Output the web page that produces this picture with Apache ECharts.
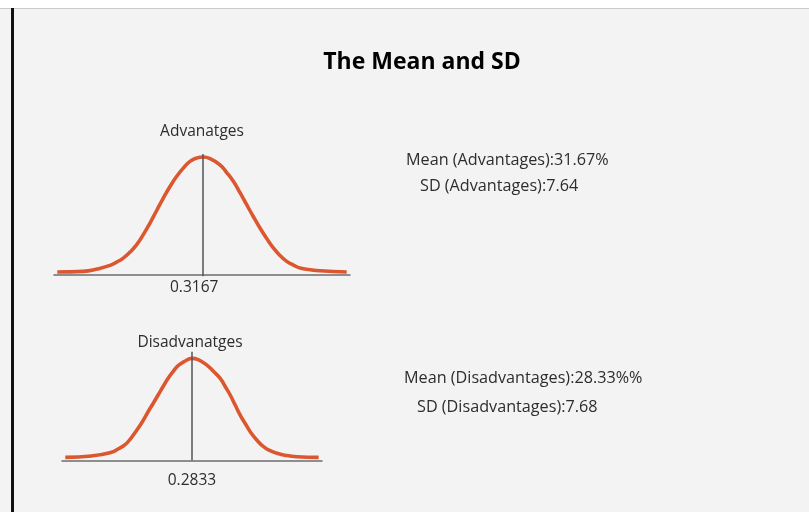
<!DOCTYPE html>
<html>
<head>
<meta charset="utf-8">
<script src="https://cdn.jsdelivr.net/npm/echarts@6/dist/echarts.min.js"></script>
<style>
  html, body { margin: 0; padding: 0; background: #ffffff; }
  #main { width: 809px; height: 512px; }
</style>
</head>
<body>
<div id="main"></div>
<script>
// ── Datos ─────────────────────────────────────────────────────────────────
const nombresGrupos = ["Advanatges", "Disadvanatges"];
const medias = [0.3167, 0.2833];

// curva "Advanatges": x en proporción, altura relativa al pico
const ventajasX = [0.0551, 0.1017, 0.1263, 0.1496, 0.1616, 0.1734, 0.1855, 0.1975, 0.2093, 0.2213,
                   0.2333, 0.2452, 0.2572, 0.2692, 0.2810, 0.2930, 0.3047, 0.3167, 0.3289, 0.3468,
                   0.3588, 0.3707, 0.3827, 0.3947, 0.4065, 0.4185, 0.4306, 0.4424, 0.4544, 0.4664,
                   0.4783, 0.4903, 0.5082, 0.5261, 0.5740];
const ventajasY = [0.021, 0.027, 0.047, 0.078, 0.106, 0.140, 0.191, 0.254, 0.340, 0.438,
                   0.545, 0.651, 0.749, 0.836, 0.906, 0.963, 0.991, 1.000, 0.987, 0.934,
                   0.868, 0.793, 0.698, 0.594, 0.494, 0.396, 0.306, 0.226, 0.162, 0.112,
                   0.081, 0.055, 0.041, 0.032, 0.021];

// curva "Disadvanatges"
const desventajasX = [0.0276, 0.0802, 0.1206, 0.1341, 0.1477, 0.1604, 0.1746, 0.1847, 0.1948, 0.2049,
                      0.2150, 0.2251, 0.2352, 0.2453, 0.2554, 0.2696, 0.2833, 0.2958, 0.3134, 0.3261,
                      0.3403, 0.3504, 0.3605, 0.3706, 0.3807, 0.3908, 0.4009, 0.4141, 0.4278, 0.4413,
                      0.4549, 0.4737, 0.4953, 0.5390];
const desventajasY = [0.031, 0.044, 0.080, 0.113, 0.152, 0.220, 0.315, 0.391, 0.477, 0.558,
                      0.641, 0.724, 0.804, 0.871, 0.928, 0.974, 1.000, 0.988, 0.934, 0.876,
                      0.804, 0.724, 0.641, 0.543, 0.445, 0.362, 0.282, 0.201, 0.135, 0.096,
                      0.070, 0.049, 0.037, 0.031];

const textosEstadisticas = [
  "Mean (Advantages):31.67%",
  "SD (Advantages):7.64",
  "Mean (Disadvantages):28.33%%",
  "SD (Disadvantages):7.68"
];

// ── Paleta ────────────────────────────────────────────────────────────────
const colores = {
  fondo: "#f3f3f3",
  curva: "#dc5630",
  eje: "#6e6e6e",
  media: "#555555",
  texto: "#2d2d2d"
};
const fuente = "'Open Sans', 'Noto Sans', sans-serif";

const fnPares = (xs, ys) => xs.map((x, i) => [x, ys[i]]);

const fnEjeX = (indice, minimo, maximo, margen, relleno) => ({
  type: "value",
  gridIndex: indice,
  min: minimo,
  max: maximo,
  splitLine: { show: false },
  axisTick: { show: false },
  axisLine: { onZero: true, lineStyle: { color: colores.eje, width: 1.5 } },
  axisLabel: {
    customValues: [medias[indice]],
    formatter: v => v.toFixed(4),
    color: colores.texto,
    fontSize: 15.5,
    fontFamily: fuente,
    margin: margen,
    padding: relleno
  }
});

const fnSerie = (indice, datos, tope) => ({
  type: "line",
  xAxisIndex: indice,
  yAxisIndex: indice,
  data: datos,
  smooth: 0.5,
  showSymbol: false,
  silent: true,
  lineStyle: { color: colores.curva, width: 3.6 },
  markLine: {
    silent: true,
    symbol: "none",
    label: { show: false },
    lineStyle: { color: colores.media, width: 1.5, type: "solid" },
    data: [[{ coord: [medias[indice], indice === 0 ? -0.015 : 0] }, { coord: [medias[indice], tope] }]]
  }
});

const grafica = echarts.init(document.getElementById("main"));

grafica.setOption({
  backgroundColor: colores.fondo,
  animation: false,
  grid: [
    { left: 54, width: 296, top: 154.1, bottom: 235.7 },
    { left: 62, width: 260, top: 351.7, bottom: 51.5 }
  ],
  xAxis: [
    fnEjeX(0, 0.0492, 0.5799, 3, [0, 18, 0, 0]),
    fnEjeX(1, 0.0210, 0.5458, 12, [0, 0, 0, 0])
  ],
  yAxis: [
    { type: "value", gridIndex: 0, min: -0.015, max: 1.025, show: false },
    { type: "value", gridIndex: 1, min: 0, max: 1.065, show: false }
  ],
  series: [
    fnSerie(0, fnPares(ventajasX, ventajasY), 1.025),
    fnSerie(1, fnPares(desventajasX, desventajasY), 1.065)
  ],
  graphic: [
    // marco de la página
    { type: "rect", shape: { x: 0, y: 0, width: 809, height: 8 }, style: { fill: "#ffffff" }, silent: true },
    { type: "rect", shape: { x: 0, y: 8, width: 809, height: 1 }, style: { fill: "#cccccc" }, silent: true },
    { type: "rect", shape: { x: 11, y: 8, width: 3, height: 504 }, style: { fill: "#111111" }, silent: true },
    // título
    {
      type: "text", x: 422, y: 62,
      style: { text: "The Mean and SD", fill: "#000000", font: `bold 23px ${fuente}`, textAlign: "center", textVerticalAlign: "middle" }
    },
    // nombres de grupos
    {
      type: "text", x: 202, y: 132,
      style: { text: nombresGrupos[0], fill: colores.texto, font: `15.5px ${fuente}`, textAlign: "center", textVerticalAlign: "middle" }
    },
    {
      type: "text", x: 190, y: 343,
      style: { text: nombresGrupos[1], fill: colores.texto, font: `15.5px ${fuente}`, textAlign: "center", textVerticalAlign: "middle" }
    },
    // estadísticas
    { type: "text", x: 406, y: 160, style: { text: textosEstadisticas[0], fill: colores.texto, font: `16.2px ${fuente}`, textVerticalAlign: "middle" } },
    { type: "text", x: 420, y: 186.5, style: { text: textosEstadisticas[1], fill: colores.texto, font: `16.2px ${fuente}`, textVerticalAlign: "middle" } },
    { type: "text", x: 404, y: 378, style: { text: textosEstadisticas[2], fill: colores.texto, font: `16.2px ${fuente}`, textVerticalAlign: "middle" } },
    { type: "text", x: 417, y: 407, style: { text: textosEstadisticas[3], fill: colores.texto, font: `16.2px ${fuente}`, textVerticalAlign: "middle" } }
  ]
});
</script>
</body>
</html>
